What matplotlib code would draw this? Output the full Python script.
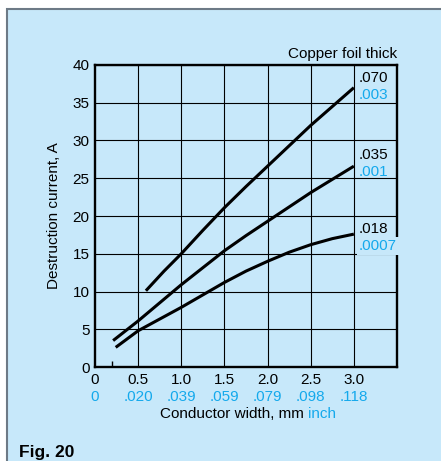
import matplotlib
matplotlib.use("Agg")
import matplotlib.pyplot as plt
from matplotlib.patches import Rectangle

plt.rcParams["font.family"] = ["Liberation Sans", "DejaVu Sans"]

# ---- data ----
mm_ticks = [0, 0.5, 1.0, 1.5, 2.0, 2.5, 3.0]
mm_labels = ["0", "0.5", "1.0", "1.5", "2.0", "2.5", "3.0"]
inch_labels = ["0", ".020", ".039", ".059", ".079", ".098", ".118"]
y_ticks = [0, 5, 10, 15, 20, 25, 30, 35, 40]

x_070 = [0.59, 0.8, 1.0, 1.25, 1.5, 1.75, 2.0, 2.5, 3.0]
y_070 = [10.1, 12.7, 15.0, 18.1, 21.1, 23.9, 26.6, 32.0, 37.0]
x_035 = [0.21, 0.5, 1.0, 1.5, 1.75, 2.0, 2.5, 3.0]
y_035 = [3.5, 6.1, 10.9, 15.4, 17.4, 19.3, 23.1, 26.6]
x_018 = [0.24, 0.5, 1.0, 1.5, 1.75, 2.0, 2.25, 2.5, 2.75, 3.0]
y_018 = [2.6, 4.8, 7.9, 11.2, 12.7, 14.0, 15.2, 16.2, 17.0, 17.6]

mm_thick = [".070", ".035", ".018"]
inch_thick = [".003", ".001", ".0007"]

BG = "#C7E8FA"
BLUE = "#14A9EC"
FS = 11

W, H = 441, 461
fig = plt.figure(figsize=(W / 100, H / 100), dpi=100)
fig.patch.set_facecolor("white")

# panel behind everything
fig.patches.append(Rectangle((7 / W, -0.1), 1.2, (H - 9) / H + 0.1,
                             transform=fig.transFigure, facecolor=BG,
                             edgecolor="#6d7a86", linewidth=1.5, zorder=-1))

ax = fig.add_axes([95 / W, (H - 367) / H, (397 - 95) / W, (367 - 65) / H])
ax.set_facecolor(BG)
ax.set_xlim(0, 3.5)
ax.set_ylim(0, 40)

for x in mm_ticks[1:]:
    ax.axvline(x, color="black", lw=0.8, zorder=1)
for y in y_ticks[1:]:
    ax.axhline(y, color="black", lw=0.8, zorder=1)

for s in ax.spines.values():
    s.set_linewidth(1.7)
    s.set_zorder(3)

for xs, ys in [(x_070, y_070), (x_035, y_035), (x_018, y_018)]:
    ax.plot(xs, ys, color="black", lw=2.2, solid_capstyle="butt",
            solid_joinstyle="round", zorder=4)

# thickness labels at the line ends (baseline positions)
label_y = [(37.8, 35.45), (27.5, 25.3), (17.8, 15.5)]
for (ym, yi), mm, inch in zip(label_y, mm_thick, inch_thick):
    ax.text(3.06, ym, mm, fontsize=FS, color="black", ha="left", va="baseline", zorder=5)
    ax.text(3.06, yi, inch, fontsize=FS, color=BLUE, ha="left", va="baseline", zorder=5,
            clip_on=False,
            bbox=dict(boxstyle="square,pad=0.15", fc=BG, ec="none") if inch == ".0007" else None)

ax.set_xticks(mm_ticks)
ax.set_xticklabels([])
ax.set_xticks([0.2], minor=True)
ax.tick_params(axis="x", which="major", length=0)
ax.tick_params(axis="x", which="minor", direction="in", length=4, width=1)
ax.set_yticks(y_ticks)
ax.tick_params(axis="y", length=0, labelsize=FS, pad=4)

for x, lab, inch in zip(mm_ticks, mm_labels, inch_labels):
    ax.text(x, -2.25, lab, ha="center", va="baseline", fontsize=FS)
    ax.text(x, -4.46, inch, ha="center", va="baseline", fontsize=FS, color=BLUE)

t1 = ax.text(0.75, -6.8, "Conductor width, mm", ha="left", va="baseline", fontsize=FS)
ax.annotate("inch", xy=(1, 0), xycoords=t1, xytext=(3, 0), textcoords="offset points",
            ha="left", va="bottom", fontsize=FS, color=BLUE)

ax.text(3.5, 40.9, "Copper foil thick", ha="right", va="baseline", fontsize=FS)
ax.set_ylabel("Destruction current, A", fontsize=FS, labelpad=8)

fig.text(19 / W, 1 - 457 / H, "Fig. 20", fontsize=12.5, fontweight="bold",
         ha="left", va="baseline")

fig.savefig("out.png", dpi=100, facecolor=fig.get_facecolor())
